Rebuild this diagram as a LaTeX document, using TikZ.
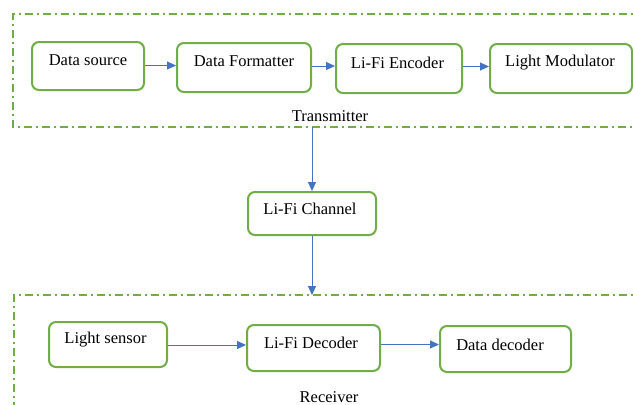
\documentclass[tikz,border=0pt]{standalone}
\usepackage{fontspec}
\setmainfont{Liberation Serif}
\usetikzlibrary{arrows.meta}
\definecolor{gr}{HTML}{70AD47}
\definecolor{bl}{HTML}{4472C4}
\tikzset{
  box/.style={draw=gr, line width=2pt, rounded corners=7pt, fill=white, inner sep=0pt},
  txt/.style={font=\fontsize{16.5}{18}\selectfont, inner sep=0pt, text=black},
  frame/.style={draw=gr, line width=1.6pt, dash pattern=on 8pt off 4pt on 2pt off 4pt},
  conn/.style={draw=bl, line width=1pt, -{Triangle[length=9pt,width=8pt]}},
}
\begin{document}
\begin{tikzpicture}[x=1pt,y=-1pt]
\useasboundingbox (0,0) rectangle (633,405);
\clip (0,0) rectangle (633,405);
% frames
\draw[frame] (645,14) -- (13,14) -- (13,127) -- (645,127);
\draw[frame] (645,295) -- (14,295) -- (14,412);
\node[txt] (tl) at (330,116) {Transmitter};
\node[txt] (rl) at (329,397.5) {Receiver};
% transmitter boxes
\node[box, minimum width=112pt, minimum height=48pt] (ds) at (88,66) {};
\node[txt] at (88,60.5) {Data source};
\node[box, minimum width=134pt, minimum height=49pt] (df) at (244,67.5) {};
\node[txt] at (244,61.5) {Data Formatter};
\node[box, minimum width=126pt, minimum height=49pt] (le) at (399,68.5) {};
\node[txt] at (397.5,62.5) {Li-Fi Encoder};
\node[box, minimum width=142pt, minimum height=49pt] (lm) at (561,68.5) {};
\node[txt] at (560,62.5) {Light Modulator};
% channel
\node[box, minimum width=128pt, minimum height=43pt] (ch) at (312,213.5) {};
\node[txt] at (310,209) {Li-Fi Channel};
% receiver boxes
\node[box, minimum width=118pt, minimum height=45pt] (ls) at (108,344.5) {};
\node[txt] at (105.5,339.5) {Light sensor};
\node[box, minimum width=133pt, minimum height=46pt] (ld) at (313.5,348) {};
\node[txt] at (311,343) {Li-Fi Decoder};
\node[box, minimum width=131pt, minimum height=46pt] (dd) at (505.5,349) {};
\node[txt] at (500,345) {Data decoder};
% connectors
\coordinate (tb) at (312,127);
\coordinate (rb) at (312,295);
\draw[conn] (ds.east |- 0,65.5) -- (df.west |- 0,65.5);
\draw[conn] (df.east |- 0,66) -- (le.west |- 0,66);
\draw[conn] (le.east |- 0,66.5) -- (lm.west |- 0,66.5);
\draw[conn] (tb) -- (ch.north);
\draw[conn] (ch.south) -- (rb);
\draw[conn] (ls.east |- 0,345) -- (ld.west |- 0,345);
\draw[conn] (ld.east |- 0,344.5) -- (dd.west |- 0,344.5);
\end{tikzpicture}
\end{document}
